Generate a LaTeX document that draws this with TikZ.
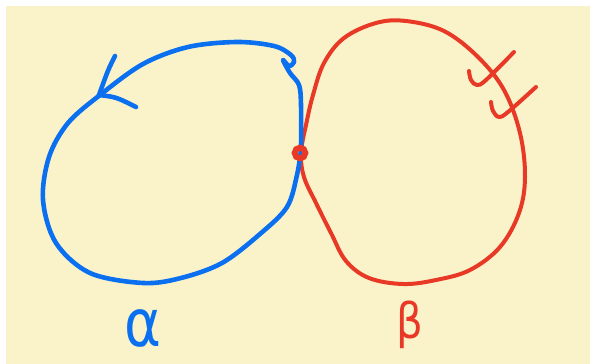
\documentclass[tikz,border=0pt]{standalone}
\usepackage{graphicx}
\usepackage{fontspec}
\newfontfamily\greekhand{DejaVu Sans}
\definecolor{paper}{RGB}{250,243,202}
\definecolor{penblue}{RGB}{10,112,240}
\definecolor{penred}{RGB}{232,56,38}
\tikzset{
  bluepen/.style={draw=penblue,line width=4.6pt,line cap=round,line join=round},
  redpen/.style={draw=penred,line width=4pt,line cap=round,line join=round},
  lbl/.style={inner sep=0pt}
}
\begin{document}
\begin{tikzpicture}[x=1pt,y=-1pt]
\useasboundingbox (0,0) rectangle (590,364);
\fill[white] (0,0) rectangle (590,364);
\fill[paper] (6,6) rectangle (590,364);
% red loop beta
\draw[redpen] plot[smooth cycle,tension=0.6] coordinates {
 (301,153) (306,125) (313,95) (324,63) (344,38) (376,23) (406,21) (444,31)
 (478,57) (504,90) (520,133) (525,177) (519,213) (500,247) (470,270)
 (436,280) (403,284) (369,278) (346,261) (331,233) (316,203) (304,177)};
% blue loop alpha
\draw[bluepen] plot[smooth,tension=0.55] coordinates {
 (301,150) (297,175) (287,207) (260,234) (222,263) (181,278) (143,283)
 (90,273) (56,243) (43,200) (49,157) (68,123) (100,95) (143,64) (188,47)
 (237,42) (274,46) (291,55) (294,62) (289,66) (283,60) (290,73) (299,85)
 (301,105) (301,150)};
% arrow head on alpha
\draw[bluepen] (115,56) .. controls (108,70) .. (99,95);
\draw[bluepen] (99,95) .. controls (116,97) .. (136,107);
% ticks on beta
\draw[redpen] plot[smooth,tension=0.6] coordinates {(469,71) (471,80) (477,85) (486,80) (514,52)};
\draw[redpen] plot[smooth,tension=0.6] coordinates {(491,102) (493,111) (499,117) (508,112) (536,87)};
% intersection point
\draw[draw=penred,line width=6pt] (300,153) circle (5.3);
% labels
\node[lbl,text=penblue] (alpha) at (143,328) {\scalebox{5.6}[6.6]{\greekhand α}};
\node[lbl,text=penred] (beta) at (410,325) {\scalebox{4.2}[4.9]{\greekhand β}};
\end{tikzpicture}
\end{document}
